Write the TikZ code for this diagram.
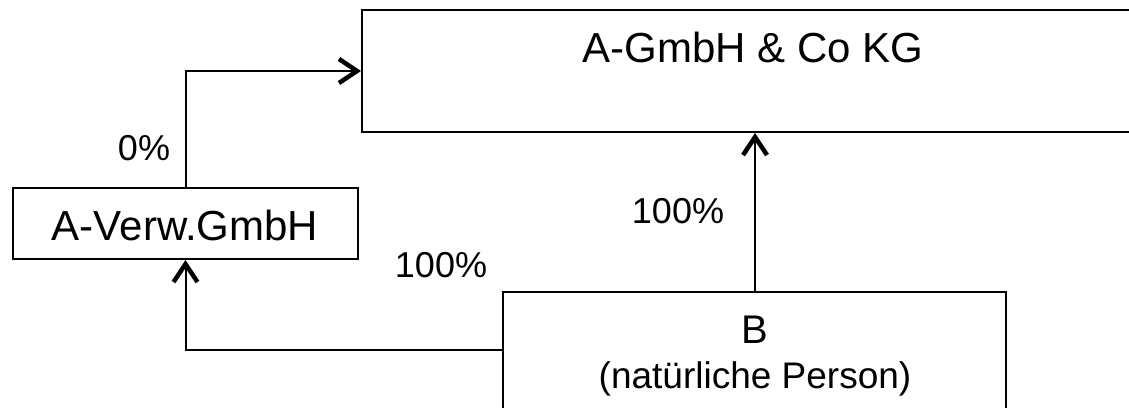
\documentclass[tikz,border=0pt]{standalone}
\usepackage{fontspec}
\setmainfont{Liberation Sans}
\usetikzlibrary{arrows.meta}
\begin{document}
\begin{tikzpicture}[x=1pt,y=-1pt,
  box/.style={draw=black,line width=2pt,inner sep=0pt,fill=white},
  lbl/.style={anchor=base,inner sep=0pt,font=\fontsize{36}{40}\selectfont},
  big/.style={anchor=base,inner sep=0pt,font=\fontsize{42}{46}\selectfont},
  arr/.style={line width=2pt,-{Straight Barb[length=18pt,width=24pt,line width=4.5pt]}}]
\useasboundingbox (0,0) rectangle (1129,407);
\fill[white] (0,0) rectangle (1129,407);
\clip (0,0) rectangle (1129,407);
\node[box,minimum width=782pt,minimum height=122pt] (kg) at (753,71) {};
\node[box,minimum width=345pt,minimum height=71pt] (verw) at (185.5,223.5) {};
\node[box,minimum width=503pt,minimum height=140pt] (b) at (754.5,362) {};
\coordinate (bw) at (503,350);
\node[big] (kgt) at (753,62) {A-GmbH \& Co KG};
\node[big] (verwt) at (185,240) {A-Verw.GmbH};
\node[big,font=\fontsize{40}{44}\selectfont] (bt) at (755,343) {B};
\node[lbl,font=\fontsize{37}{40}\selectfont] (bp) at (755,388) {(natürliche Person)};
\node[lbl] (p0) at (144,160) {0\%};
\node[lbl] (p1) at (678,223) {100\%};
\node[lbl] (p2) at (441,277) {100\%};
\draw[arr] (verw.north) |- (kg.west);
\draw[arr] (b.north -| 755,0) -- (kg.south -| 755,0);
\draw[arr] (bw) -| (verw.south);
\end{tikzpicture}
\end{document}
